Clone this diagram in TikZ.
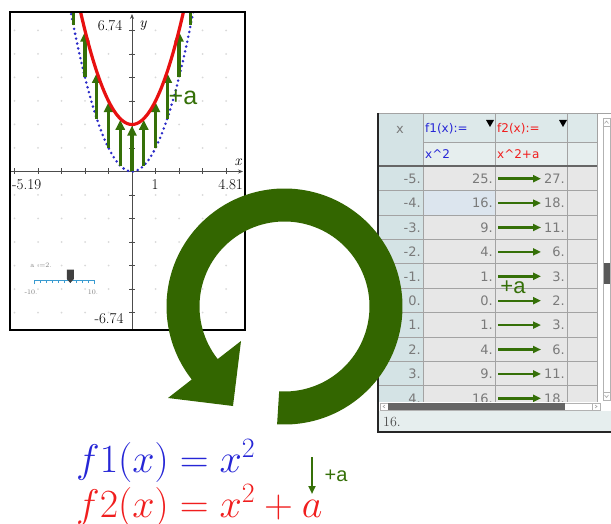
\RequirePackage{fix-cm}
\documentclass[tikz,border=0pt]{standalone}
\usepackage{fontspec}
\usetikzlibrary{arrows.meta,positioning,calc}
\newfontfamily\tabfont{DejaVu Sans}
\newfontfamily\plusfont{Liberation Sans}
\definecolor{fblue}{HTML}{2626D6}
\definecolor{fred}{HTML}{F01E1E}
\definecolor{ringgreen}{HTML}{336600}
\definecolor{arrowgreen}{HTML}{357008}
\definecolor{dotblue}{HTML}{2B2BC8}
\definecolor{curvered}{HTML}{E81010}
\definecolor{numgray}{HTML}{7A7A7A}
\definecolor{xcolbg}{HTML}{D4E3E5}
\definecolor{cellbg}{HTML}{E7E7E7}
\definecolor{headbg}{HTML}{DDE9EA}
\definecolor{headbg2}{HTML}{E6EEEE}
\definecolor{selbg}{HTML}{DCE5EE}
\definecolor{tabgrid}{HTML}{A3A3A3}
\definecolor{sliderblue}{HTML}{3A9BD0}

\begin{document}
\begin{tikzpicture}[x=1pt,y=-1pt,
  griddot/.style={fill=gray!30},
  axisline/.style={draw=gray!60!black,line width=0.8},
  ticklbl/.style={font=\fontsize{15}{15}\selectfont,inner sep=0},
  shiftarrow/.style={draw=arrowgreen,line width=3.2,-{Triangle[length=10pt,width=9pt]}},
  tabnum/.style={font=\tabfont\fontsize{13}{13}\selectfont,text=numgray,anchor=east,inner sep=0},
  tabhead/.style={font=\tabfont\fontsize{12}{12}\selectfont,anchor=west,inner sep=0},
  tabarrow/.style={draw=arrowgreen,line width=2.4,-{Triangle[length=8pt,width=7pt]}},
  plusa/.style={font=\plusfont\fontsize{25}{25}\selectfont,text=arrowgreen,inner sep=0},
  formula/.style={anchor=base west,inner sep=0,font=\fontsize{40}{40}\selectfont}]
\useasboundingbox (0,0) rectangle (611,524);

\begin{scope}
\clip (10,12) rectangle (245,330);
\fill[white] (10,12) rectangle (245,330);
\foreach \i in {-5,...,4}
  \foreach \j in {-6,...,6}
    \fill[griddot] (132+23.5*\i,171.5-23.5*\j) circle (1);
\draw[axisline,-{Stealth[length=5pt,width=4pt]}] (10,171.5) -- (243,171.5);
\draw[axisline,-{Stealth[length=5pt,width=4pt]}] (132,330) -- (132,14);
\foreach \i in {-5,...,4}
  \draw[axisline] (132+23.5*\i,168.5) -- (132+23.5*\i,174.5);
\foreach \j in {-6,...,6}
  \draw[axisline] (129,171.5-23.5*\j) -- (135,171.5-23.5*\j);
\begin{scope}[shift={(132,171.5)},x=23.5pt,y=23.5pt]
\draw[dotblue,line width=2.8,dash pattern=on 0pt off 5pt,line cap=round] plot[domain=-3:3,samples=90] (\x,{\x*\x});
\foreach \u in {-2.5,-2,...,2.5}
  \draw[shiftarrow] (\u,{\u*\u}) -- (\u,{\u*\u+1.95});
\draw[curvered,line width=3.2] plot[domain=-2.7:2.7,samples=90] (\x,{\x*\x+2});
\end{scope}
\node[ticklbl] (ymax) at (110,26) {6.74};
\node[ticklbl,font=\fontsize{15}{15}\selectfont\itshape] (ylbl) at (143,26) {y};
\node[ticklbl,anchor=west] (xmin) at (12,185) {-5.19};
\node[ticklbl] (xone) at (155,185) {1};
\node[ticklbl,anchor=east] (xmax) at (243,185) {4.81};
\node[ticklbl,font=\fontsize{15}{15}\selectfont\itshape] (xlbl) at (238,162) {x};
\node[ticklbl] (ymin) at (109,319) {-6.74};
\node[inner sep=0,font=\fontsize{7}{7}\selectfont,text=gray] (aval) at (41,265) {a :=2.};
\draw[sliderblue,line width=1.2] (34.3,284) -- (34.3,280.5) -- (94.3,280.5) -- (94.3,284);
\foreach \t in {1,...,9}
  \draw[sliderblue,line width=0.8] (34.3+6*\t,280.5) -- (34.3+6*\t,283);
\fill[black!75] (66.8,269.5) -- (73.8,269.5) -- (73.8,279) -- (70.3,283) -- (66.8,279) -- cycle;
\node[inner sep=0,font=\fontsize{7}{7}\selectfont,text=gray] (smin) at (31,292) {-10.};
\node[inner sep=0,font=\fontsize{7}{7}\selectfont,text=gray] (smax) at (93,292) {10.};
\node[plusa] (plusgraph) at (183,97) {+a};
\end{scope}
\draw[black,line width=2.5] (10,12) rectangle (245,330);

\begin{scope}
\clip (378,113) rectangle (611,402);
\fill[xcolbg] (378,113) rectangle (423,402);
\fill[cellbg] (423,166) rectangle (597,402);
\fill[headbg] (423,113) rectangle (597,142);
\fill[headbg2] (423,142) rectangle (597,166);
\fill[selbg] (423,190.4) rectangle (495,214.8);
\fill[white] (597,113) rectangle (611,402);
\foreach \k in {1,...,10}
  \draw[tabgrid] (378,166+24.4*\k) -- (597,166+24.4*\k);
\draw[tabgrid] (423,142) -- (597,142);
\foreach \xx in {423,495,567,597}
  \draw[tabgrid] (\xx,113) -- (\xx,402);
\draw[gray!80!black,line width=2.5] (378,166) -- (597,166);
\draw[gray!60,line width=0.6] (603,118) rectangle (610,400);
\draw[gray!60,line width=0.6] (603,118) rectangle (610,126);
\draw[gray!70,line width=0.6] (604.5,123.5) -- (606.5,121) -- (608.5,123.5);
\draw[gray!60,line width=0.6] (603,392) rectangle (610,400);
\draw[gray!70,line width=0.6] (604.5,395) -- (606.5,397.5) -- (608.5,395);
\fill[black!65] (603.5,263) rectangle (609.5,284);
\node[font=\tabfont\fontsize{13}{13}\selectfont,text=numgray,inner sep=0] (xhead) at (400,130) {x};
\node[tabhead,text=fblue] (f1head) at (425,129) {f1(x):=};
\node[tabhead,text=fred] (f2head) at (497,129) {f2(x):=};
\node[tabhead,text=fblue] (f1def) at (425,154) {x\textasciicircum2};
\node[tabhead,text=fred] (f2def) at (497,154) {x\textasciicircum2+a};
\fill[black] (486,120) -- (494,120) -- (490,127) -- cycle;
\fill[black] (559,120) -- (567,120) -- (563,127) -- cycle;
\foreach \xv/\fa/\fb [count=\k from 0] in {-5./25./27.,-4./16./18.,-3./9./11.,-2./4./6.,-1./1./3.,0./0./2.,1./1./3.,2./4./6.,3./9./11.,4./16./18.}{
  \pgfmathsetmacro{\yc}{178.7+24.4*\k}
  \node[tabnum] (xv\k) at (421,\yc) {\xv};
  \node[tabnum] (fa\k) at (493,\yc) {\fa};
  \node[tabnum] (fb\k) at (565,\yc) {\fb};
  \coordinate (as\k) at (498,\yc);
  \coordinate (ae\k) at (541,\yc);
  \draw[tabarrow] (as\k) -- (ae\k);
}
\node[plusa,font=\plusfont\fontsize{22}{22}\selectfont] (plustab) at (513,287) {+a};
\end{scope}
\fill[white] (378,402) rectangle (611,411);
\draw[gray!60,line width=0.6] (380,403) rectangle (600,410);
\fill[black!60] (388,403) rectangle (565,410);
\draw[gray!60,line width=0.6] (592,403) rectangle (600,410);
\draw[gray!70,line width=0.6] (595,405) -- (597,406.5) -- (595,408);
\draw[gray!70,line width=0.6] (385,405) -- (383,406.5) -- (385,408);
\fill[headbg2] (378,411) rectangle (611,432);
\node[anchor=west,inner sep=0,font=\fontsize{14}{14}\selectfont,text=black!70] (entry) at (383,422) {16.};
\draw[tabgrid] (378,113) -- (611,113);
\draw[black!85,line width=1.2] (378,113) -- (378,432) -- (611,432);

\coordinate (ringc) at (284.5,306.5);
\fill[ringgreen] ($(ringc)+(93.6:118)$) arc[start angle=93.6,end angle=-218.2,radius=118] -- (168,398) -- (233,406) -- (241,341) -- ($(ringc)+(-218.2:85)$) arc[start angle=-218.2,end angle=93.6,radius=85] -- cycle;

\node[formula,text=fblue] (f1eq) at (76,472) {$f1(x) = x^2$};
\node[formula,text=fred] (f2eq) at (76,517) {$f2(x) = x^2 + a$};
\coordinate (abovea) at (312,457);
\coordinate (atopa) at (312,494);
\draw[draw=arrowgreen,line width=2,-{Triangle[length=8pt,width=7pt]}] (abovea) -- (atopa);
\node[plusa,font=\plusfont\fontsize{20}{20}\selectfont] (plusform) at (336,476) {+a};
\end{tikzpicture}
\end{document}
